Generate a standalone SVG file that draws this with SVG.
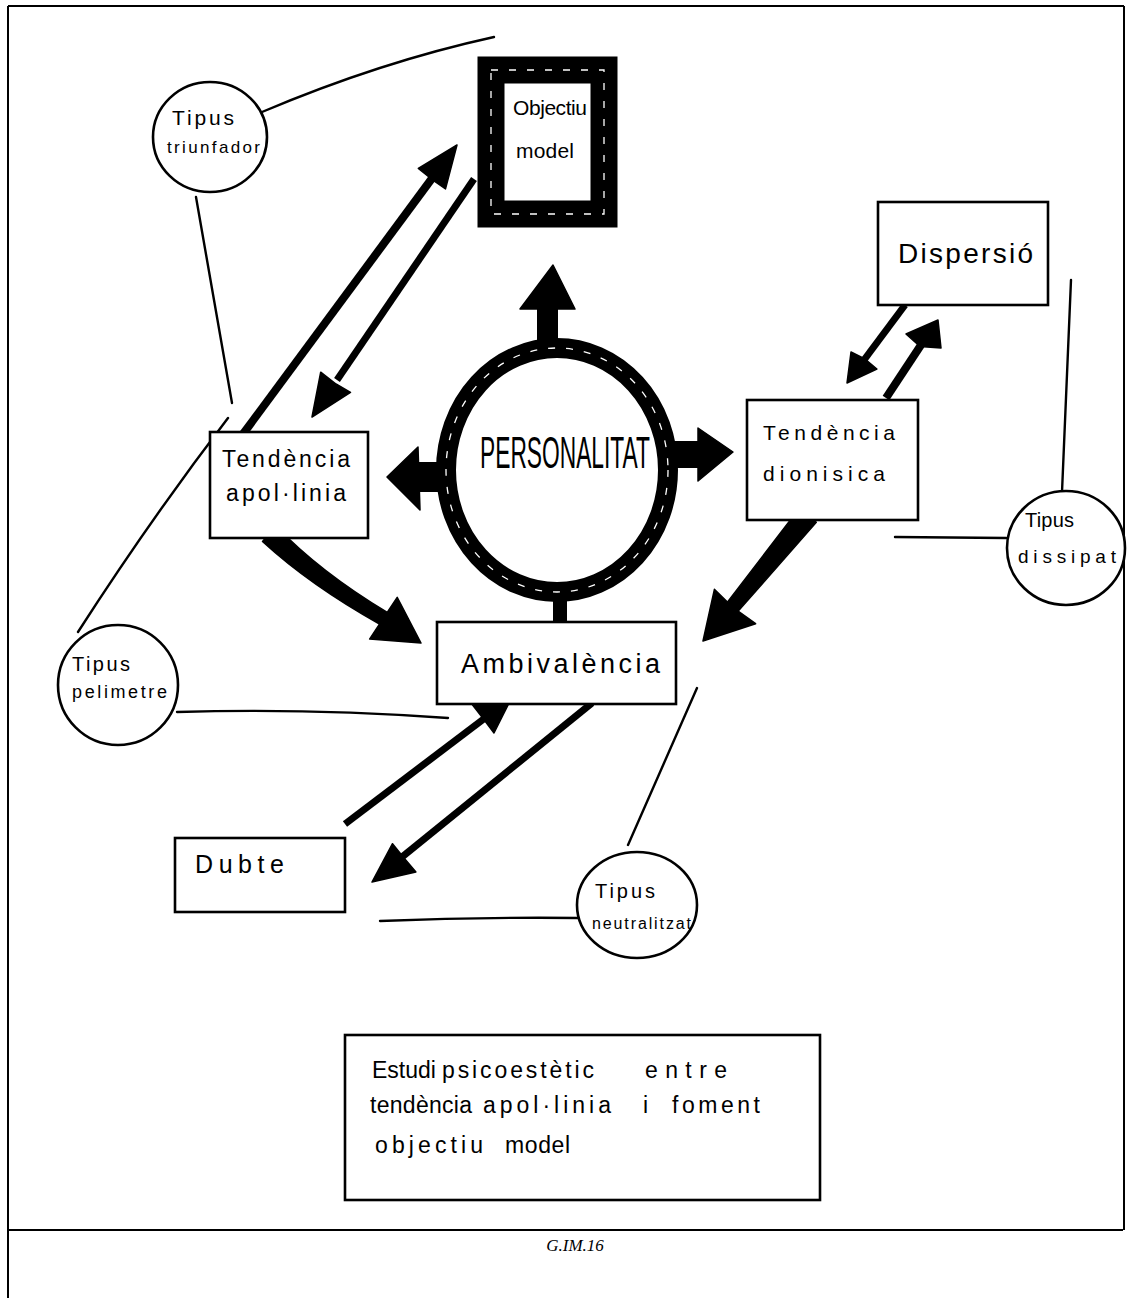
<svg xmlns="http://www.w3.org/2000/svg" width="1135" height="1298" viewBox="0 0 1135 1298">
<style>
.box{fill:#fff;stroke:#000;stroke-width:2.6}
.ln{fill:none;stroke:#000;stroke-width:2.4;stroke-linecap:round}
.shaft{fill:none;stroke:#000;stroke-linecap:butt}
.ar{fill:#000;stroke:#000;stroke-width:1.5;stroke-linejoin:round}
.streak{fill:none;stroke:#fff;stroke-width:1.3;stroke-dasharray:7 11}
.t{font-family:"Liberation Sans","DejaVu Sans",sans-serif;fill:#000}
.cap{font-family:"Liberation Serif","Times New Roman",serif;font-style:italic;font-size:17px;fill:#000}
</style>
<rect width="1135" height="1298" fill="#fff"/>
<!-- page frame -->
<g id="frame" fill="none" stroke="#000" stroke-width="2">
  <line x1="8" y1="6" x2="1124" y2="6"/>
  <line x1="8" y1="6" x2="8" y2="1298"/>
  <line x1="1124" y1="6" x2="1124" y2="1230"/>
  <line x1="8" y1="1230" x2="1123" y2="1230"/>
</g>
<text class="cap" x="575" y="1251" text-anchor="middle">G.IM.16</text>

<g id="connectors">
  <!-- plain lines -->
  <path class="ln" d="M262,112 Q380,62 494,37"/>
  <path class="ln" d="M196,197 L214,300 L232,403"/>
  <path class="ln" d="M228,418 Q150,520 78,632"/>
  <path class="ln" d="M177,712 Q310,708 448,718"/>
  <path class="ln" d="M697,688 L628,845"/>
  <path class="ln" d="M380,921 Q480,917 578,918"/>
  <path class="ln" d="M1071,280 L1062,492"/>
  <path class="ln" d="M895,537 L1006,538"/>

  <!-- apol-linia -> objectiu -->
  <line class="shaft" x1="243" y1="434" x2="433" y2="177" stroke-width="8"/>
  <polygon class="ar" points="457,145 445.5,188.9 434,181 418.3,168.5"/>
  <!-- objectiu -> apol-linia -->
  <line class="shaft" x1="474" y1="179" x2="337" y2="380" stroke-width="7"/>
  <polygon class="ar" points="312,417 320.7,372.2 336,384 350.5,392.4"/>

  <!-- dionisica -> dispersio -->
  <line class="shaft" x1="886" y1="398" x2="921" y2="345" stroke-width="8"/>
  <polygon class="ar" points="938,320 941,348 920,346.5 906,334"/>
  <!-- dispersio -> dionisica -->
  <line class="shaft" x1="905" y1="305" x2="864" y2="360" stroke-width="7"/>
  <polygon class="ar" points="847,383 851,352 865,359 876.9,369"/>

  <!-- apol-linia -> ambivalencia (big) -->
  <path class="ar" d="M276,526 Q320,572 387.3,612.4 L379.5,624 Q310,585 262.5,541.4 Z"/>
  <polygon class="ar" points="421,643 369.6,639.1 383.4,618.2 397.2,597.3"/>
  <!-- dionisica -> ambivalencia (big) -->
  <polygon class="ar" points="799.7,507.8 727.2,602.4 737.8,611.6 816.3,522.2"/>
  <polygon class="ar" points="703,641 714.4,589.3 732.5,607 755.6,623.7"/>

  <!-- dubte -> ambivalencia -->
  <line class="shaft" x1="345" y1="824" x2="485" y2="718" stroke-width="7"/>
  <polygon class="ar" points="512,697 494,733 483.3,718.7 472.6,705"/>
  <!-- ambivalencia -> dubte -->
  <line class="shaft" x1="592" y1="703" x2="402" y2="857" stroke-width="7"/>
  <polygon class="ar" points="372,882 392.5,843.7 403.2,856.9 415.9,872"/>

  <!-- personalitat arrows -->
  <rect x="537" y="306" width="21" height="36" fill="#000"/>
  <polygon class="ar" points="520,309 553,265 575,309"/>
  <rect x="672" y="441" width="30" height="27" fill="#000"/>
  <polygon class="ar" points="698,428 733,452 698,481"/>
  <rect x="414" y="462" width="28" height="30" fill="#000"/>
  <polygon class="ar" points="387,477 418,447 420,510"/>
  <rect x="553" y="598" width="14" height="26" fill="#000"/>
</g>

<g id="n-personalitat">
  <ellipse cx="557" cy="470" rx="111" ry="122" fill="#fff" stroke="#000" stroke-width="20"/>
  <ellipse class="streak" cx="557" cy="470" rx="111" ry="122"/>
  <text class="t" x="480" y="468" font-size="44" textLength="170" lengthAdjust="spacingAndGlyphs">PERSONALITAT</text>
</g>

<g id="n-objectiu">
  <rect x="491" y="70" width="113" height="144" fill="#fff" stroke="#000" stroke-width="27"/>
  <rect class="streak" x="491" y="70" width="113" height="144"/>
  <text class="t" x="513" y="115" font-size="21" textLength="74" lengthAdjust="spacing">Objectiu</text>
  <text class="t" x="516" y="158" font-size="21" textLength="58" lengthAdjust="spacing">model</text>
</g>

<g id="n-triunfador">
  <ellipse class="box" cx="210" cy="137" rx="57" ry="55"/>
  <text class="t" x="172" y="125" font-size="21" textLength="62" lengthAdjust="spacing">Tipus</text>
  <text class="t" x="167" y="153" font-size="17" textLength="93" lengthAdjust="spacing">triunfador</text>
</g>

<g id="n-apollinia">
  <rect class="box" x="210" y="432" width="158" height="106"/>
  <text class="t" x="222" y="467" font-size="23" textLength="128" lengthAdjust="spacing">Tendència</text>
  <text class="t" x="226" y="501" font-size="23" textLength="120" lengthAdjust="spacing">apol·linia</text>
</g>

<g id="n-dispersio">
  <rect class="box" x="878" y="202" width="170" height="103"/>
  <text class="t" x="898" y="263" font-size="28" textLength="135" lengthAdjust="spacing">Dispersió</text>
</g>

<g id="n-dionisica">
  <rect class="box" x="747" y="400" width="171" height="120"/>
  <text class="t" x="763" y="440" font-size="21" textLength="132" lengthAdjust="spacing">Tendència</text>
  <text class="t" x="763" y="481" font-size="21" textLength="122" lengthAdjust="spacing">dionisica</text>
</g>

<g id="n-dissipat">
  <ellipse class="box" cx="1066" cy="548" rx="59" ry="57"/>
  <text class="t" x="1025" y="527" font-size="20" textLength="49" lengthAdjust="spacing">Tipus</text>
  <text class="t" x="1018" y="563" font-size="19" textLength="98" lengthAdjust="spacing">dissipat</text>
</g>

<g id="n-ambivalencia">
  <rect class="box" x="437" y="622" width="239" height="82"/>
  <text class="t" x="461" y="673" font-size="27" textLength="199" lengthAdjust="spacing">Ambivalència</text>
</g>

<g id="n-pelimetre">
  <ellipse class="box" cx="118" cy="685" rx="60" ry="60"/>
  <text class="t" x="72" y="671" font-size="20" textLength="58" lengthAdjust="spacing">Tipus</text>
  <text class="t" x="72" y="698" font-size="18" textLength="95" lengthAdjust="spacing">pelimetre</text>
</g>

<g id="n-dubte">
  <rect class="box" x="175" y="838" width="170" height="74"/>
  <text class="t" x="195" y="873" font-size="25" textLength="89" lengthAdjust="spacing">Dubte</text>
</g>

<g id="n-neutralitzat">
  <ellipse class="box" cx="637" cy="905" rx="60" ry="53"/>
  <text class="t" x="595" y="898" font-size="20" textLength="60" lengthAdjust="spacing">Tipus</text>
  <text class="t" x="592" y="929" font-size="16" textLength="99" lengthAdjust="spacing">neutralitzat</text>
</g>

<g id="n-estudi">
  <rect class="box" x="345" y="1035" width="475" height="165"/>
  <g class="t" font-size="23">
    <text x="372" y="1078">Estudi</text>
    <text x="442" y="1078" textLength="152" lengthAdjust="spacing">psicoestètic</text>
    <text x="645" y="1078" textLength="82" lengthAdjust="spacing">entre</text>
    <text x="370" y="1113" textLength="102" lengthAdjust="spacing">tendència</text>
    <text x="483" y="1113" textLength="128" lengthAdjust="spacing">apol·linia</text>
    <text x="643" y="1113">i</text>
    <text x="672" y="1113" textLength="88" lengthAdjust="spacing">foment</text>
    <text x="375" y="1153" textLength="108" lengthAdjust="spacing">objectiu</text>
    <text x="505" y="1153" textLength="65" lengthAdjust="spacing">model</text>
  </g>
</g>
</svg>
